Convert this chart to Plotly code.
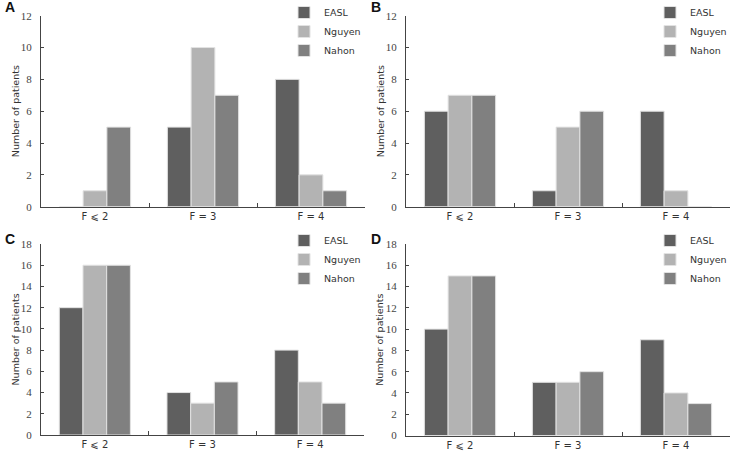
import plotly.graph_objects as go

categories = ["F ⩽ 2", "F = 3", "F = 4"]
series_names = ["EASL", "Nguyen", "Nahon"]
colors = ["#5f5f5f", "#b3b3b3", "#808080"]

panel_a = {"EASL": [0, 5, 8], "Nguyen": [1, 10, 2], "Nahon": [5, 7, 1]}
panel_b = {"EASL": [6, 1, 6], "Nguyen": [7, 5, 1], "Nahon": [7, 6, 0]}
panel_c = {"EASL": [12, 4, 8], "Nguyen": [16, 3, 5], "Nahon": [16, 5, 3]}
panel_d = {"EASL": [10, 5, 9], "Nguyen": [15, 5, 4], "Nahon": [15, 6, 3]}

panel_letters = ["A", "B", "C", "D"]
y_max = [12, 12, 18, 18]
y_tick_step = 2
y_title = "Number of patients"

W, H = 734, 455
panels = [panel_a, panel_b, panel_c, panel_d]
# pixel boxes (left, right, top, bottom)
boxes = [(41, 365, 15.7, 206.7), (406, 730, 15.7, 206.7),
         (41, 364, 244, 435), (406, 730, 244, 435.5)]
legend_pos = [(284, -2), (650, -2), (284, 226), (650, 226)]
letter_pos = [(10, -2), (376, -2), (10, 230), (376, 230)]

fig = go.Figure()
sans = "DejaVu Sans"
serif = "Liberation Serif"

for i, (data, box) in enumerate(zip(panels, boxes)):
    n = "" if i == 0 else str(i + 1)
    lg = "legend" + n
    for name, col in zip(series_names, colors):
        fig.add_trace(go.Bar(
            x=categories, y=data[name], name=name,
            marker=dict(color=col, line=dict(color="#e2e2e2", width=1)),
            xaxis="x" + n, yaxis="y" + n, legend=lg,
        ))
    l, r, t, b = box
    fig.layout["xaxis" + n] = dict(
        domain=[l / W, r / W], anchor="y" + n,
        type="category", range=[-0.5, 2.5],
        showline=True, linecolor="#444", linewidth=1,
        ticks="inside", tickson="boundaries", ticklen=4, tickcolor="#444",
        tickfont=dict(family=sans, size=10, color="#333"),
        showgrid=False, zeroline=False, fixedrange=True, automargin=False,
    )
    fig.layout["yaxis" + n] = dict(
        domain=[1 - b / H, 1 - t / H], anchor="x" + n,
        range=[0, y_max[i]], dtick=y_tick_step, tick0=0,
        showline=True, linecolor="#444", linewidth=1,
        ticks="inside", ticklen=3, tickcolor="#444",
        ticklabelstandoff=6,
        tickfont=dict(family=serif, size=11, color="#444"),
        showgrid=False, zeroline=False, automargin=False,
    )
    lx, ly = legend_pos[i]
    fig.layout[lg] = dict(
        x=lx / W, y=1 - ly / H, xanchor="left", yanchor="top",
        bgcolor="rgba(0,0,0,0)", font=dict(family=sans, size=9.5, color="#333"),
        itemclick=False, itemdoubleclick=False, tracegroupgap=0,
    )
    px, py = letter_pos[i]
    fig.add_annotation(
        text="<b>%s</b>" % panel_letters[i], xref="paper", yref="paper",
        x=px / W, y=1 - py / H, xanchor="center", yanchor="top", borderpad=0,
        showarrow=False, font=dict(family="Liberation Sans", size=14, color="#111"),
    )
    fig.add_annotation(
        text=y_title, xref="paper", yref="paper", textangle=-90,
        x=(l - 26) / W, y=1 - ((t + b) / 2) / H, xanchor="center", yanchor="middle",
        showarrow=False, font=dict(family=sans, size=9.5, color="#333"),
    )

fig.update_layout(
    width=W, height=H, margin=dict(l=0, r=0, t=0, b=0, autoexpand=False),
    paper_bgcolor="white", plot_bgcolor="white",
    barmode="group", bargap=0.34, bargroupgap=0,
    showlegend=True,
)

fig.write_html(
    "out.html",
    config={"displayModeBar": False},
    post_script="document.body.style.margin='0';document.body.style.overflow='hidden';",
)
